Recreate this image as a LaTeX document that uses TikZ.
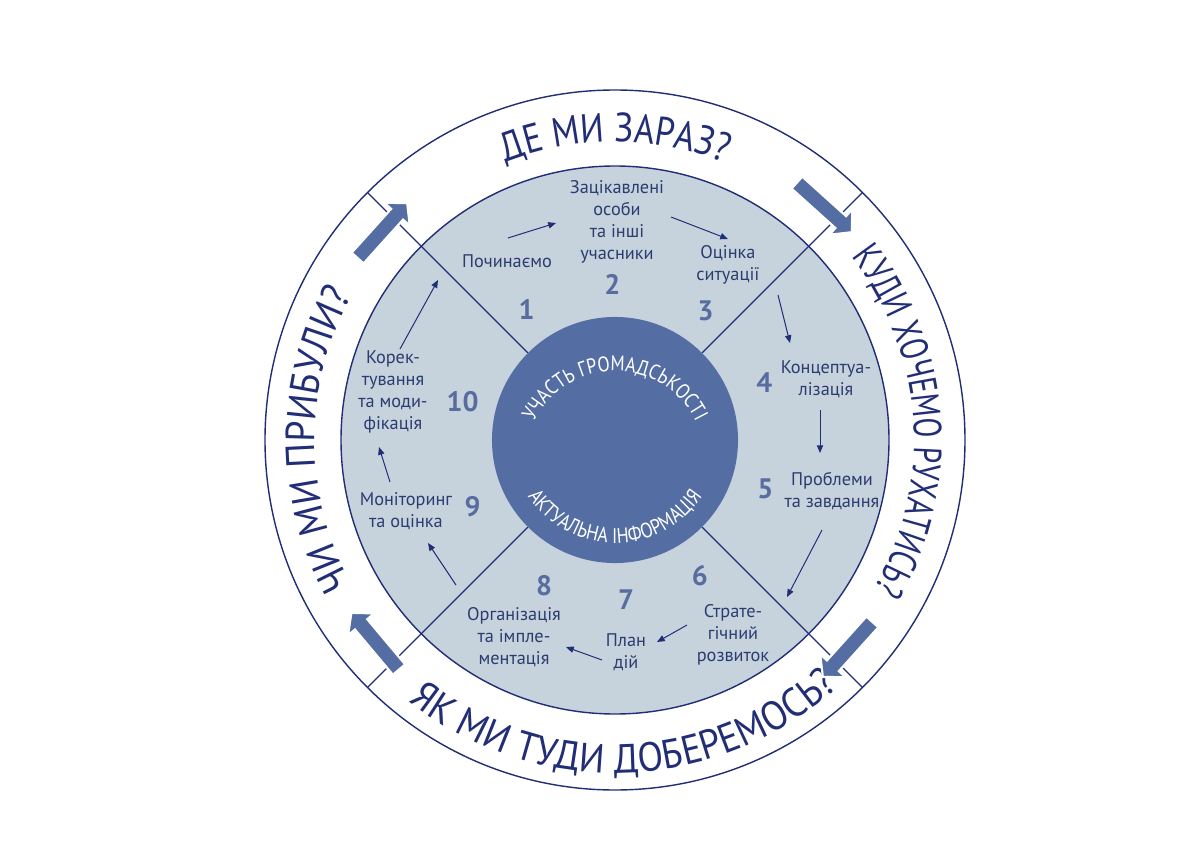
\documentclass[tikz,border=0pt]{standalone}
\usepackage{fontspec}
\setmainfont{PT Sans}
\newfontfamily\ringfamily{PT Sans}[FakeStretch=0.85]
\newfontfamily\ringwide{PT Sans}[FakeStretch=0.92]
\newfontfamily\ringnarrow{PT Sans}[FakeStretch=0.74]
\usetikzlibrary{arrows.meta,decorations.text}

\definecolor{navy}{RGB}{33,46,118}
\definecolor{ringfill}{RGB}{198,210,220}
\definecolor{diskblue}{RGB}{84,110,163}
\definecolor{numblue}{RGB}{88,108,160}
\definecolor{labelblue}{RGB}{45,60,112}

\newcommand\ringtext{\ringfamily\fontsize{29pt}{30pt}\selectfont\color{navy}}
\newcommand\ringtextw{\ringwide\fontsize{29pt}{30pt}\selectfont\color{navy}}
\newcommand\ringtextn{\ringnarrow\fontsize{28pt}{30pt}\selectfont\color{navy}}
\newcommand\coretext{\ringfamily\fontsize{15pt}{16pt}\selectfont\color{white}}

\begin{document}
\begin{tikzpicture}[
      x=0.025cm, y=0.025cm,
      steptext/.style = {align=center, text=labelblue, inner sep=0pt,
                         font=\fontsize{13pt}{15.5pt}\selectfont},
      stepnum/.style = {text=numblue, font=\bfseries\fontsize{20pt}{20pt}\selectfont},
      flow/.style = {-{Triangle[length=5.5pt,width=4.5pt]}, draw=navy, line width=0.7pt},
      divider/.style = {draw=navy, line width=0.9pt},
      bigarrow/.style = {fill=diskblue, draw=white, line width=1.5pt},
      ringlabel/.style = {decorate, decoration={text along path, text align=center, text={#1}}}
      ]
      \useasboundingbox (-615,-408) rectangle (585,440);

      % rings and sectors
      \filldraw[fill=ringfill, draw=navy, line width=1pt] (0,0) circle[radius=274];
      \foreach \ang in {45,135,-45,-135}
        \draw[divider] (\ang:123) -- (\ang:350);
      \draw[navy, line width=1pt] (0,0) circle[radius=350];
      \node[circle, fill=diskblue, minimum size=6.15cm, inner sep=0pt] (core) at (0,0) {};

      % questions
      \path[ringlabel={|\ringtext|ДЕ МИ ЗАРАЗ?}] (150:298) arc[start angle=150, end angle=30, radius=298];
      \path[ringlabel={|\ringtextn|КУДИ ХОЧЕМО РУХАТИСЬ?}] (63:299) arc[start angle=63, end angle=-55, radius=299];
      \path[ringlabel={|\ringtextw|ЯК МИ ТУДИ ДОБЕРЕМОСЬ?}] (-168:333) arc[start angle=-168, end angle=-8, radius=333];
      \path[ringlabel={|\ringtextw|ЧИ МИ ПРИБУЛИ?}] (240:300) arc[start angle=240, end angle=120, radius=300];

      % core
      \path[ringlabel={|\coretext|УЧАСТЬ ГРОМАДСЬКОСТІ}] ([shift={(0,-21)}]170:90) arc[start angle=170, end angle=10, radius=90];
      \path[ringlabel={|\coretext|АКТУАЛЬНА ІНФОРМАЦІЯ}] ([shift={(0,2)}]-170:105) arc[start angle=-170, end angle=-10, radius=105];

      % steps
      \node[steptext] (s1) at (-108,179) {Починаємо};
      \node[steptext] (s2) at (2,218) {Зацікавлені\\особи\\та інші\\учасники};
      \node[steptext] (s3) at (113,175) {Оцінка\\ситуації};
      \node[steptext] (s4) at (211,61) {Концептуа-\\лізація};
      \node[steptext] (s5) at (217,-51) {Проблеми\\та завдання};
      \node[steptext] (s6) at (118,-195) {Страте-\\гічний\\розвиток};
      \node[steptext] (s7) at (11,-212) {План\\дій};
      \node[steptext] (s8) at (-101,-197) {Організація\\та імпле-\\ментація};
      \node[steptext] (s9) at (-209,-71) {Моніторинг\\та оцінка};
      \node[steptext] (s10) at (-222,48) {Корек-\\тування\\та моди-\\фікація};

      \node[stepnum] (n1) at (124:158) {1};
      \node[stepnum] (n2) at (91:156) {2};
      \node[stepnum] (n3) at (55:158) {3};
      \node[stepnum] (n4) at (21:160) {4};
      \node[stepnum] (n5) at (-18:158) {5};
      \node[stepnum] (n6) at (-58:160) {6};
      \node[stepnum] (n7) at (-86:160) {7};
      \node[stepnum] (n8) at (-116:162) {8};
      \node[stepnum] (n9) at (-155:157) {9};
      \node[stepnum] (n10) at (166:157) {10};

      % flow between steps
      \foreach \i/\ps/\pe in {1/{-107,202}/{-59,217}, 2/{56,223}/{113,201},
                              3/{163,145}/{175,97}, 4/{205,30}/{205,-13},
                              5/{207,-90}/{172,-157}, 6/{72,-185}/{42,-202},
                              7/{-13,-220}/{-49,-207}, 8/{-159,-145}/{-187,-103},
                              9/{-225,-42}/{-236,-7}, 10/{-215,91}/{-177,160}} {
        \coordinate (t\i) at (\ps);
        \coordinate (h\i) at (\pe);
        \draw[flow] (t\i) -- (h\i);
      }

      % big arrows
      \foreach \ang in {138,48,-42,-140}
        \filldraw[bigarrow, shift={(\ang:313)}, rotate=\ang-90]
          (-37,-8) -- (22,-8) -- (22,-17) -- (37,0) -- (22,17) -- (22,8) -- (-37,8) -- cycle;
\end{tikzpicture}
\end{document}
